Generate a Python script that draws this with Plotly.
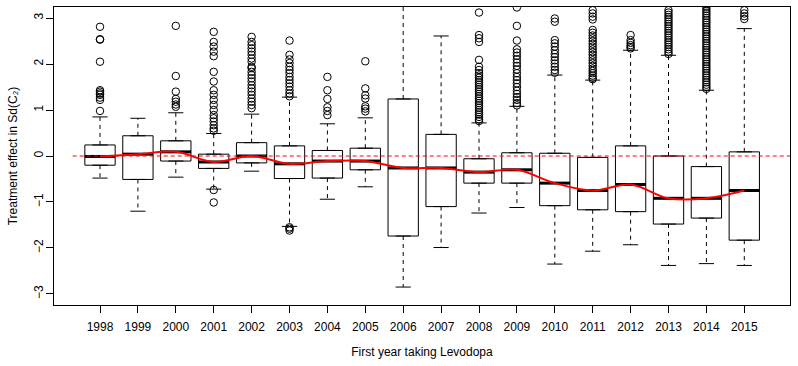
import plotly.graph_objects as go

years = [1998, 1999, 2000, 2001, 2002, 2003, 2004, 2005, 2006,
         2007, 2008, 2009, 2010, 2011, 2012, 2013, 2014, 2015]
q1 = [-0.20, -0.51, -0.11, -0.27, -0.15, -0.49, -0.48, -0.30, -1.74,
      -1.10, -0.59, -0.59, -1.08, -1.17, -1.21, -1.48, -1.35, -1.83]
median = [-0.01, 0.04, 0.09, -0.13, 0.00, -0.17, -0.11, -0.11, -0.26,
          -0.26, -0.35, -0.30, -0.59, -0.75, -0.62, -0.92, -0.92, -0.75]
q3 = [0.24, 0.44, 0.33, 0.04, 0.29, 0.22, 0.12, 0.17, 1.24,
      0.47, -0.06, 0.07, 0.06, -0.03, 0.22, 0.00, -0.23, 0.09]
lower_whisker = [-0.48, -1.20, -0.46, -0.72, -0.33, -1.53, -0.94, -0.67, -2.85,
                 -1.99, -1.24, -1.12, -2.35, -2.07, -1.93, -2.38, -2.34, -2.38]
upper_whisker = [0.85, 0.82, 0.94, 0.49, 0.91, 1.28, 0.70, 0.83, 3.45,
                 2.61, 0.72, 1.08, 1.76, 1.65, 2.30, 2.19, 1.43, 2.77]

outliers = {
    1998: [2.81, 2.54, 2.53, 2.05, 1.43, 1.40, 1.36, 1.33, 1.27, 1.22, 0.98],
    1999: [],
    2000: [2.83, 1.74, 1.40, 1.24, 1.18, 1.12, 1.07],
    2001: [2.70, 2.48, 2.38, 2.27, 2.17, 1.83, 1.62, 1.43, 1.33, 1.22, 1.11,
           1.00, 0.89, 0.82, 0.75, 0.67, 0.60, 0.55, -0.74, -1.01],
    2002: [2.59, 2.48, 2.41, 2.34, 2.27, 2.20, 2.12, 2.05, 1.94, 1.91, 1.83,
           1.76, 1.69, 1.62, 1.54, 1.47, 1.40, 1.33, 1.25, 1.18, 1.11, 1.04],
    2003: [2.51, 2.20, 2.10, 2.02, 1.94, 1.87, 1.80, 1.72, 1.65, 1.58, 1.51,
           1.43, 1.36, 1.30, -1.55, -1.58, -1.62],
    2004: [1.72, 1.43, 1.24, 1.06, 0.98, 0.89],
    2005: [2.06, 1.47, 1.32, 1.25, 1.08, 1.03, 0.97],
    2006: [],
    2007: [],
    2008: [3.12, 2.63, 2.56, 2.48, 2.09, 1.94, 1.87, 1.80, 1.75, 1.70, 1.65,
           1.60, 1.55, 1.50, 1.45, 1.40, 1.35, 1.30, 1.25, 1.20, 1.15, 1.10,
           1.05, 1.00, 0.95, 0.90, 0.85, 0.80, 0.76],
    2009: [3.23, 2.83, 2.51, 2.32, 2.25, 2.18, 2.10, 2.03, 1.96, 1.88, 1.80,
           1.72, 1.65, 1.58, 1.50, 1.42, 1.35, 1.28, 1.22, 1.15, 1.10],
    2010: [2.99, 2.92, 2.52, 2.45, 2.38, 2.30, 2.22, 2.15, 2.08, 2.01, 1.94,
           1.87, 1.81],
    2011: [3.17, 3.10, 3.03, 2.97, 2.74, 2.68, 2.62, 2.56, 2.50, 2.44, 2.38,
           2.32, 2.26, 2.20, 2.14, 2.08, 2.02, 1.96, 1.90, 1.85, 1.80, 1.75,
           1.70, 1.67],
    2012: [2.63, 2.52, 2.46, 2.41, 2.37, 2.34],
    2013: [3.17, 3.12, 3.07, 3.02, 2.97, 2.92, 2.87, 2.82, 2.77, 2.72, 2.67,
           2.62, 2.57, 2.52, 2.47, 2.42, 2.37, 2.32, 2.27, 2.22],
    2014: [3.30, 3.25, 3.20, 3.15, 3.10, 3.05, 3.00, 2.95, 2.90, 2.85, 2.80,
           2.75, 2.70, 2.65, 2.60, 2.55, 2.50, 2.45, 2.40, 2.35, 2.30, 2.25,
           2.20, 2.15, 2.10, 2.05, 2.00, 1.95, 1.90, 1.85, 1.80, 1.75, 1.70,
           1.65, 1.60, 1.55, 1.50, 1.46],
    2015: [3.17, 3.10, 3.04, 2.98],
}

y_ticks = [-3, -2, -1, 0, 1, 2, 3]
x_title = "First year taking Levodopa"
y_title = "Treatment effect in Sd(C₂)"

FONT = "Liberation Sans, Arial, Helvetica, sans-serif"
HALF_BOX = 0.4
HALF_CAP = 0.2

fig = go.Figure()

# boxes (drawn first so everything else lies above)
fig.add_trace(go.Box(
    x=years, q1=q1, median=median, q3=q3,
    lowerfence=q1, upperfence=q3,
    width=2 * HALF_BOX, fillcolor="white",
    line=dict(color="black", width=1),
    boxpoints=False, hoverinfo="skip", showlegend=False,
))

# dashed whiskers
wx, wy = [], []
for yr, a, b, lo, hi in zip(years, q1, q3, lower_whisker, upper_whisker):
    wx += [yr, yr, None, yr, yr, None]
    wy += [b, hi, None, a, lo, None]
fig.add_trace(go.Scatter(x=wx, y=wy, mode="lines",
                         line=dict(color="black", width=1, dash="4px,4px"),
                         hoverinfo="skip", showlegend=False))

# whisker caps
cx, cy = [], []
for yr, lo, hi in zip(years, lower_whisker, upper_whisker):
    cx += [yr - HALF_CAP, yr + HALF_CAP, None, yr - HALF_CAP, yr + HALF_CAP, None]
    cy += [hi, hi, None, lo, lo, None]
fig.add_trace(go.Scatter(x=cx, y=cy, mode="lines",
                         line=dict(color="black", width=1),
                         hoverinfo="skip", showlegend=False))

# thick medians
mx, my = [], []
for yr, m in zip(years, median):
    mx += [yr - HALF_BOX, yr + HALF_BOX, None]
    my += [m, m, None]
fig.add_trace(go.Scatter(x=mx, y=my, mode="lines",
                         line=dict(color="black", width=3),
                         hoverinfo="skip", showlegend=False))

# outliers
ox, oy = [], []
for yr in years:
    for v in outliers[yr]:
        ox.append(yr)
        oy.append(v)
fig.add_trace(go.Scatter(x=ox, y=oy, mode="markers",
                         marker=dict(symbol="circle-open", size=7.5, color="black",
                                     line=dict(width=1)),
                         hoverinfo="skip", showlegend=False))

# smoothed median trend
fig.add_trace(go.Scatter(x=years, y=median, mode="lines",
                         line=dict(color="#ff0000", width=2, shape="spline", smoothing=1.0),
                         hoverinfo="skip", showlegend=False))

# red dashed reference line at 0
fig.add_shape(type="line", xref="x", yref="y", x0=1997.28, x1=2016.206, y0=0, y1=0,
              line=dict(color="#ff0000", width=1, dash="4px,3px"), layer="above")

fig.update_layout(
    width=798, height=366,
    margin=dict(l=54, r=8, t=7, b=61),
    plot_bgcolor="white", paper_bgcolor="white",
    font=dict(family=FONT, size=12, color="black"),
    showlegend=False,
    xaxis=dict(
        range=[1996.786, 2016.206],
        tickvals=years, ticktext=[str(y) for y in years],
        ticks="outside", ticklen=7, tickwidth=1, tickcolor="black",
        ticklabelstandoff=4,
        showline=True, linecolor="black", linewidth=1, mirror=True,
        showgrid=False, zeroline=False,
        title=dict(text=x_title, standoff=14, font=dict(size=12)),
        tickfont=dict(size=12),
    ),
    yaxis=dict(
        range=[-3.24, 3.24],
        tickvals=y_ticks,
        ticks="outside", ticklen=7, tickwidth=1, tickcolor="black",
        tickangle=-90, ticklabelstandoff=-2,
        showline=True, linecolor="black", linewidth=1, mirror=True,
        showgrid=False, zeroline=False,
        title=dict(text=y_title, standoff=12, font=dict(size=12)),
        tickfont=dict(size=12),
    ),
)

fig.write_html("out.html")
